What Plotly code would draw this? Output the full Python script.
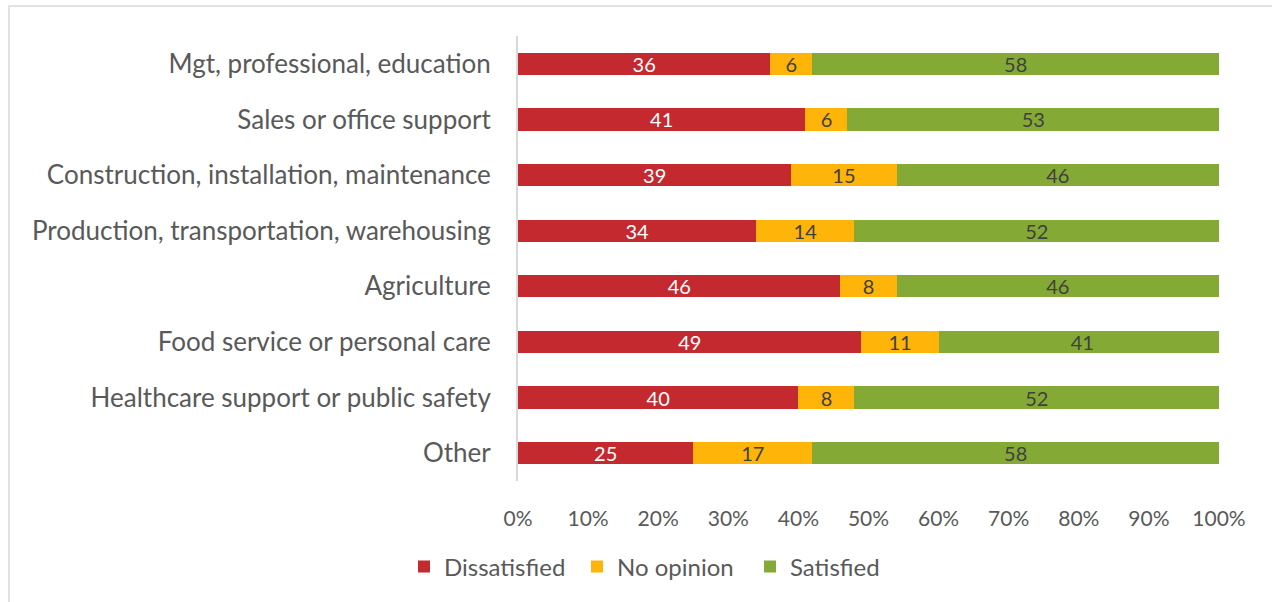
import plotly.graph_objects as go

categories = ["Mgt, professional, education", "Sales or office support",
              "Construction, installation, maintenance",
              "Production, transportation, warehousing", "Agriculture",
              "Food service or personal care", "Healthcare support or public safety", "Other"]
dissatisfied = [36, 41, 39, 34, 46, 49, 40, 25]
no_opinion = [6, 6, 15, 14, 8, 11, 8, 17]
satisfied = [58, 53, 46, 52, 46, 41, 52, 58]
x_ticks = [0, 10, 20, 30, 40, 50, 60, 70, 80, 90, 100]

W, H = 1272, 602
L, R, T, B = 518, 53, 36, 121
pw, ph = W - L - R, H - T - B

FONT = "Lato"
fig = go.Figure()
series = [("Dissatisfied", dissatisfied, "#C3292E", "white"),
          ("No opinion", no_opinion, "#FFB40A", "#404040"),
          ("Satisfied", satisfied, "#84AA35", "#404040")]
for name, vals, col, tcol in series:
    fig.add_trace(go.Bar(
        y=categories, x=vals, name=name, orientation="h",
        marker=dict(color=col, line=dict(width=0)),
        text=[str(v) for v in vals], textposition="inside", insidetextanchor="middle",
        textangle=0,
        textfont=dict(family=FONT, size=20, color=tcol), constraintext="none",
        width=0.4,
    ))

fig.update_layout(
    barmode="stack", width=W, height=H,
    margin=dict(l=L, r=R, t=T, b=B, pad=0),
    plot_bgcolor="white", paper_bgcolor="white",
    font=dict(family=FONT, color="#595959"),
    xaxis=dict(range=[0, 100], tickvals=x_ticks, ticktext=[f"{v}%" for v in x_ticks],
               showgrid=False, zeroline=False, showline=False,
               tickfont=dict(family=FONT, size=21, color="#595959"),
               ticks="outside", ticklen=19, tickcolor="rgba(0,0,0,0)"),
    yaxis=dict(autorange="reversed", showgrid=False, zeroline=False,
               showline=True, linecolor="#D9D9D9", linewidth=2,
               tickfont=dict(family=FONT, size=26, color="#595959"),
               ticks="outside", ticklen=20, tickcolor="rgba(0,0,0,0)"),
    legend=dict(orientation="h", x=(404 - L) / pw, xanchor="left",
                y=(H - B - 567) / ph, yanchor="middle",
                font=dict(family=FONT, size=24, color="#595959"),
                itemwidth=30, traceorder="normal",
                entrywidth=128, entrywidthmode="pixels"),
    showlegend=True,
)
fig.add_shape(type="rect", xref="paper", yref="paper",
              x0=(9 - L) / pw, x1=1.3, y0=-0.6, y1=(H - B - 6) / ph,
              line=dict(color="#D9D9D9", width=1.5), fillcolor="rgba(0,0,0,0)", layer="below")
fig.write_html("out.html")
